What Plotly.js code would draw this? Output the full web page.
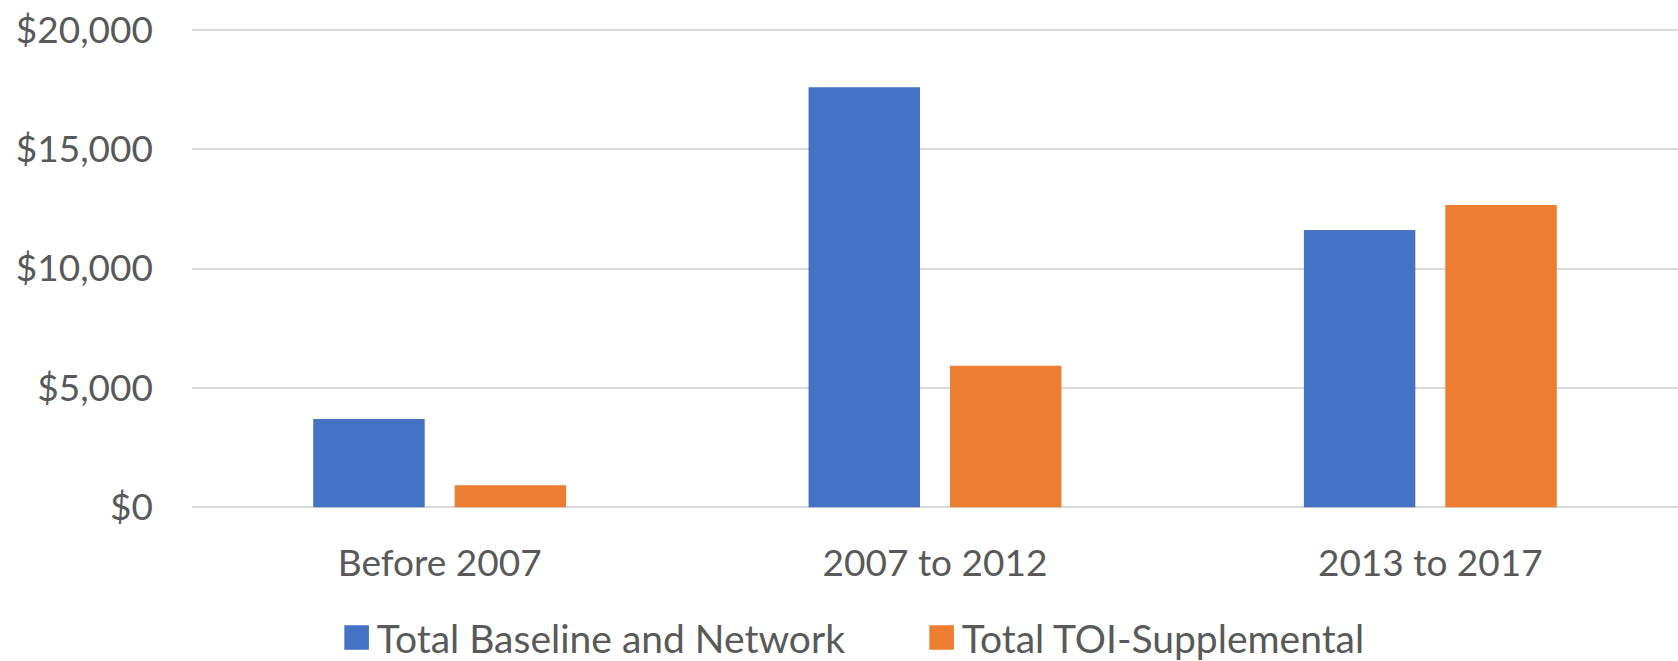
<!DOCTYPE html>
<html>
<head>
<meta charset="utf-8">
<script src="https://cdn.plot.ly/plotly-3.0.1.min.js"></script>
<style>html,body{margin:0;padding:0;background:#fff;}#chart{width:1678px;height:661px;}</style>
</head>
<body>
<div id="chart"></div>
<script>
const categories = ["Before 2007", "2007 to 2012", "2013 to 2017"];
const seriesNames = ["Total Baseline and Network", "Total TOI-Supplemental"];
const baselineValues = [3700, 17590, 11610];
const toiValues = [920, 5930, 12660];
const yTickVals = [0, 5000, 10000, 15000, 20000];
const yTickText = ["$0", "$5,000", "$10,000", "$15,000", "$20,000"];

const FONT = "Lato, 'Open Sans', sans-serif";
const traces = [
  {type: "bar", name: seriesNames[0], x: categories, y: baselineValues,
   marker: {color: "#4472C4", line: {width: 0}}, hoverinfo: "none"},
  {type: "bar", name: seriesNames[1], x: categories, y: toiValues,
   marker: {color: "#ED7D31", line: {width: 0}}, hoverinfo: "none"}
];
const layout = {
  width: 1678, height: 661,
  margin: {l: 192, r: 0, t: 25, b: 148.5, autoexpand: false},
  paper_bgcolor: "#fff", plot_bgcolor: "#fff",
  font: {family: FONT, size: 37, color: "#595959"},
  barmode: "group", bargap: 0.429, bargroupgap: 0.212,
  showlegend: true,
  legend: {orientation: "h", x: 0.491, xanchor: "center", y: -0.258, yanchor: "middle",
           entrywidth: 540, entrywidthmode: "pixels",
           font: {family: FONT, size: 39, color: "#595959"}, traceorder: "normal"},
  xaxis: {type: "category", showgrid: false, zeroline: false, showline: false,
          ticks: "", ticklabelstandoff: 26, tickfont: {family: FONT, size: 37, color: "#595959"}},
  yaxis: {range: [-200, 20200], tickvals: yTickVals, ticktext: yTickText,
          showgrid: true, gridcolor: "#D9D9D9", gridwidth: 2, zeroline: false, showline: false,
          ticks: "", ticklabelstandoff: 38, tickfont: {family: FONT, size: 37, color: "#595959"}}
};
Plotly.newPlot("chart", traces, layout, {displayModeBar: false, staticPlot: true}).then(function (gd) {
  gd.querySelectorAll(".legend .legendpoints path").forEach(function (p) {
    const t = p.getAttribute("transform") || "";
    p.setAttribute("transform", t + " scale(2.05)");
  });
});
</script>
</body>
</html>
